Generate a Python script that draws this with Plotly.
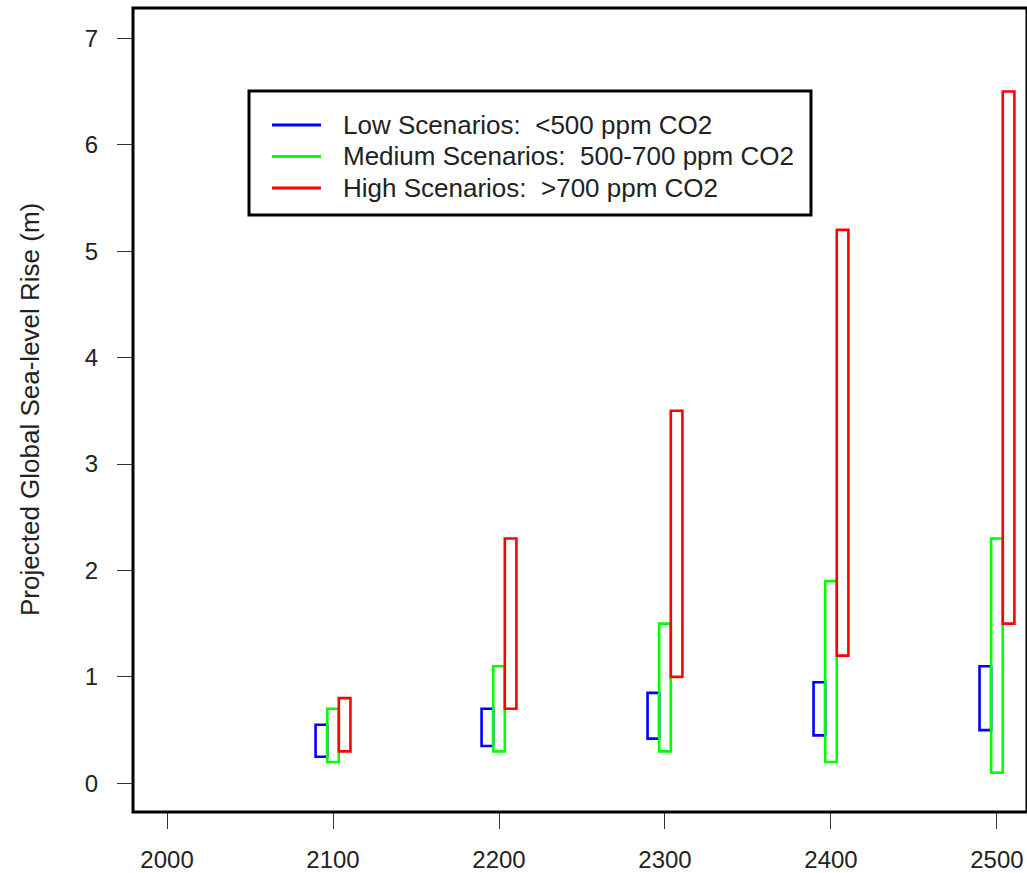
import plotly.graph_objects as go

# ---- data ----
years = [2100, 2200, 2300, 2400, 2500]
low_min = [0.25, 0.35, 0.42, 0.45, 0.50]
low_max = [0.55, 0.70, 0.85, 0.95, 1.10]
med_min = [0.20, 0.30, 0.30, 0.20, 0.10]
med_max = [0.70, 1.10, 1.50, 1.90, 2.30]
high_min = [0.30, 0.70, 1.00, 1.20, 1.50]
high_max = [0.80, 2.30, 3.50, 5.20, 6.50]

series_names = ["Low Scenarios:\u00a0 &lt;500 ppm CO2",
                "Medium Scenarios:\u00a0 500-700 ppm CO2",
                "High Scenarios:\u00a0 &gt;700 ppm CO2"]
series_colors = ["#0000FF", "#00FF00", "#FF0000"]
x_ticks = [2000, 2100, 2200, 2300, 2400, 2500]
y_ticks = [0, 1, 2, 3, 4, 5, 6, 7]

W, H = 1027, 873
L, R, T, B = 133, 0, 8, 61
PW, PH = W - L - R, H - T - B


def px(x):
    return (x - L) / PW


def py(y):
    return 1 - (y - T) / PH


fig = go.Figure()

bar_width = 7
offsets = [-10.5, -3.5, 3.5]
mins = [low_min, med_min, high_min]
maxs = [low_max, med_max, high_max]
for name, col, off, lo, hi in zip(series_names, series_colors, offsets, mins, maxs):
    fig.add_trace(go.Bar(
        x=years, base=lo, y=[h - l for h, l in zip(hi, lo)],
        width=bar_width, offset=off, name=name,
        marker=dict(color="rgba(0,0,0,0)", line=dict(color=col, width=2.6)),
        showlegend=False, hoverinfo="skip"))

font_main = "Liberation Sans, Arial, Helvetica, sans-serif"

fig.update_layout(
    width=W, height=H,
    margin=dict(l=L, r=R, t=T, b=B, pad=0),
    paper_bgcolor="white", plot_bgcolor="white",
    barmode="overlay",
    font=dict(family=font_main, color="#222222"),
    xaxis=dict(range=[1979.5, 2518.1], tickvals=x_ticks,
               ticktext=[str(v) for v in x_ticks], automargin=False,
               showgrid=False, zeroline=False, showline=False,
               ticks="outside", ticklen=16, tickwidth=1.3, tickcolor="#333333",
               tickfont=dict(size=24, color="#222222"), ticklabelstandoff=10),
    yaxis=dict(range=[-0.2697, 7.2847], tickvals=y_ticks,
               ticktext=[str(v) for v in y_ticks], automargin=False,
               showgrid=False, zeroline=False, showline=False,
               ticks="outside", ticklen=15, tickwidth=1.3, tickcolor="#333333",
               tickfont=dict(size=24, color="#222222"), ticklabelstandoff=14),
)

# plot frame
fig.add_shape(type="rect", xref="paper", yref="paper", x0=0, x1=1, y0=0, y1=1,
              line=dict(color="black", width=3), layer="above")

# y-axis title
fig.add_annotation(text="Projected Global Sea-level Rise (m)", xref="paper", yref="paper",
                   x=px(30), y=py(410), textangle=-90, showarrow=False,
                   xanchor="center", yanchor="middle",
                   font=dict(size=26, color="#222222", family=font_main))

# legend box
fig.add_shape(type="rect", xref="paper", yref="paper",
              x0=px(249), x1=px(811), y0=py(215), y1=py(91),
              line=dict(color="black", width=3), fillcolor="white", layer="above")
row_y = [125, 156.5, 188]
for name, col, ry in zip(series_names, series_colors, row_y):
    fig.add_shape(type="line", xref="paper", yref="paper",
                  x0=px(272), x1=px(321), y0=py(ry), y1=py(ry),
                  line=dict(color=col, width=3), layer="above")
    fig.add_annotation(text=name, xref="paper", yref="paper", x=px(341), y=py(ry),
                       xanchor="left", yanchor="middle", showarrow=False,
                       font=dict(size=26, color="#222222", family=font_main))

fig.write_html("out.html")
